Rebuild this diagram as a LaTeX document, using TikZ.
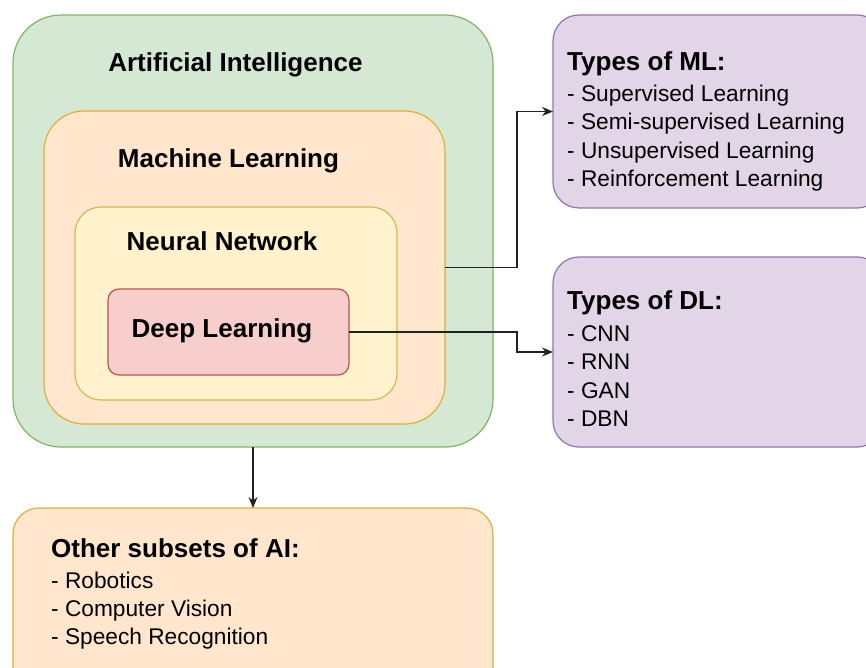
\documentclass[tikz,border=0pt]{standalone}
\usepackage{fontspec}
\setmainfont{Liberation Sans}
\usetikzlibrary{arrows.meta}
\definecolor{gfill}{HTML}{D5E8D4}\definecolor{gline}{HTML}{82B366}
\definecolor{ofill}{HTML}{FFE6CC}\definecolor{oline}{HTML}{E0AE3A}
\definecolor{yfill}{HTML}{FFF2CC}\definecolor{yline}{HTML}{D6B656}
\definecolor{rfill}{HTML}{F8CECC}\definecolor{rline}{HTML}{B85450}
\definecolor{pfill}{HTML}{E1D5E7}\definecolor{pline}{HTML}{9673A6}
\definecolor{arrowc}{HTML}{222222}
\tikzset{
  panel/.style={draw, line width=1.2pt, inner sep=0pt, outer sep=0pt},
  title/.style={font=\fontsize{26}{30}\selectfont\bfseries, anchor=base, inner sep=0pt},
  htitle/.style={font=\fontsize{26}{30}\selectfont\bfseries, anchor=base west, inner sep=0pt},
  item/.style={font=\fontsize{22.7}{27}\selectfont, anchor=base west, inner sep=0pt},
  conn/.style={draw=arrowc, line width=1.2pt, -{Stealth[length=11pt,width=9pt]}},
}
\begin{document}
\begin{tikzpicture}[x=1pt,y=-1pt]
\useasboundingbox (0,0) rectangle (866,668);
\clip (0,0) rectangle (866,668);
\fill[white] (0,0) rectangle (866,668);

% nested sets
\node[panel, fill=gfill, draw=gline, rounded corners=48pt, minimum width=480pt, minimum height=432pt] (ai) at (253,231) {};
\node[panel, fill=ofill, draw=oline, rounded corners=40pt, minimum width=401pt, minimum height=313pt] (ml) at (244.5,267.5) {};
\node[panel, fill=yfill, draw=yline, rounded corners=26pt, minimum width=322pt, minimum height=193pt] (nn) at (236,303.5) {};
\node[panel, fill=rfill, draw=rline, rounded corners=11pt, minimum width=241pt, minimum height=86pt] (dl) at (228.5,332) {};

\node[title] (aiT) at (235.5,72) {Artificial Intelligence};
\node[title] (mlT) at (228.5,168) {Machine Learning};
\node[title] (nnT) at (222,250) {Neural Network};
\node[title] (dlT) at (222,337) {Deep Learning};

% side panels
\node[panel, fill=pfill, draw=pline, rounded corners=26pt, minimum width=330pt, minimum height=193pt, anchor=north west] (tml) at (553,15) {};
\node[panel, fill=pfill, draw=pline, rounded corners=26pt, minimum width=330pt, minimum height=190pt, anchor=north west] (tdl) at (553,257) {};
\node[panel, fill=ofill, draw=oline, rounded corners=26pt, minimum width=480pt, minimum height=190pt, anchor=north west] (other) at (13,508) {};

\node[htitle] (tmlT) at (567,71) {Types of ML:};
\node[item] (m1) at (567,102) {- Supervised Learning};
\node[item] (m2) at (567,130) {- Semi-supervised Learning};
\node[item] (m3) at (567,159) {- Unsupervised Learning};
\node[item] (m4) at (567,187) {- Reinforcement Learning};

\node[htitle] (tdlT) at (567,309) {Types of DL:};
\node[item] (d1) at (567,341) {- CNN};
\node[item] (d2) at (567,369) {- RNN};
\node[item] (d3) at (567,398) {- GAN};
\node[item] (d4) at (567,426) {- DBN};

\node[htitle] (otherT) at (51,557) {Other subsets of AI:};
\node[item] (o1) at (51,588) {- Robotics};
\node[item] (o2) at (51,616) {- Computer Vision};
\node[item] (o3) at (51,644) {- Speech Recognition};

% connectors
\coordinate (jx) at (517,0);
\draw[conn] (ml.east) -- (ml.east -| jx) |- (tml.west);
\draw[conn] (dl.east) -- (dl.east -| jx) |- (tdl.west);
\draw[conn] (ai.south) -- (other.north);
\end{tikzpicture}
\end{document}
